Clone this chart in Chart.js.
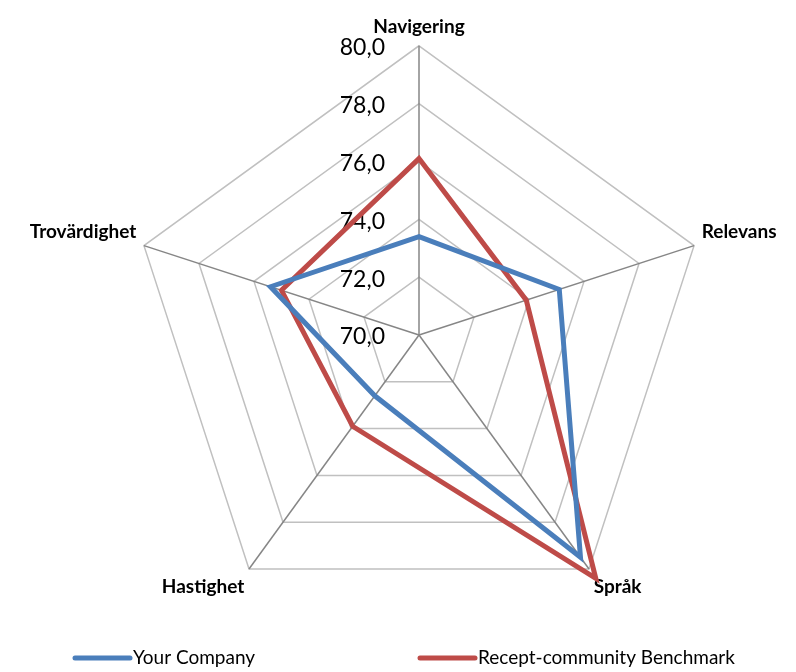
<!DOCTYPE html>
<html>
<head>
<meta charset="utf-8">
<script src="https://cdn.jsdelivr.net/npm/chart.js@4"></script>
<style>
  html, body { margin: 0; padding: 0; background: #fff; }
  #wrap { width: 796px; height: 672px; position: relative; }
</style>
</head>
<body>
<div id="wrap"><canvas id="radarChart"></canvas></div>
<script>
var categories = ['Navigering', 'Relevans', 'Språk', 'Hastighet', 'Trovärdighet'];
var yourCompany = [73.4, 75.1, 79.5, 72.6, 75.4];
var benchmark = [76.1, 73.9, 80.4, 73.9, 75.0];
var seriesNames = ['Your Company', 'Recept-community Benchmark'];
var tickValues = [70, 72, 74, 76, 78, 80];

function fmt(v) { return v.toFixed(1).replace('.', ','); }

// tick labels sit left of the vertical axis, like the original
var tickLabels = {
  id: 'tickLabels',
  beforeDatasetsDraw: function (chart) {
    var s = chart.scales.r, ctx = chart.ctx;
    ctx.save();
    ctx.font = '23px Lato';
    ctx.fillStyle = '#000';
    ctx.textAlign = 'right';
    ctx.textBaseline = 'middle';
    tickValues.forEach(function (v) {
      var d = s.getDistanceFromCenterForValue(v);
      ctx.fillText(fmt(v), s.xCenter - 34, s.yCenter - d + 2);
    });
    ctx.restore();
  }
};

var bottomLegend = {
  id: 'bottomLegend',
  afterDraw: function (chart) {
    var ctx = chart.ctx;
    var xs = [75, 420];
    var y = 658;
    ctx.save();
    ctx.font = '19px Lato';
    ctx.textBaseline = 'middle';
    chart.data.datasets.forEach(function (ds, i) {
      ctx.strokeStyle = ds.borderColor;
      ctx.lineWidth = 5;
      ctx.lineCap = 'round';
      ctx.beginPath();
      ctx.moveTo(xs[i], y);
      ctx.lineTo(xs[i] + 55, y);
      ctx.stroke();
      ctx.fillStyle = '#000';
      ctx.fillText(ds.label, xs[i] + 58, y);
    });
    ctx.restore();
  }
};

var ctx = document.getElementById('radarChart').getContext('2d');
var radarChart = new Chart(ctx, {
  type: 'radar',
  data: {
    labels: categories,
    datasets: [{
      label: seriesNames[0],
      data: yourCompany,
      borderColor: '#4a7ebb',
      backgroundColor: '#4a7ebb',
      borderWidth: 5,
      fill: false,
      pointRadius: 0,
      tension: 0
    }, {
      label: seriesNames[1],
      data: benchmark,
      borderColor: '#be4b48',
      backgroundColor: '#be4b48',
      borderWidth: 5,
      fill: false,
      pointRadius: 0,
      tension: 0
    }]
  },
  options: {
    responsive: true,
    maintainAspectRatio: false,
    animation: false,
    clip: false,
    layout: { padding: { top: -15, bottom: 32, left: 14, right: 0 } },
    plugins: {
      legend: { display: false },
      tooltip: { enabled: false }
    },
    scales: {
      r: {
        min: 70,
        max: 80,
        ticks: { stepSize: 2, display: false },
        grid: { color: '#c0c0c0', lineWidth: 1.5 },
        angleLines: { color: '#868686', lineWidth: 1.5 },
        pointLabels: {
          color: '#000',
          font: { family: 'Lato', size: 19, weight: 'bold' },
          padding: 8
        }
      }
    }
  },
  plugins: [tickLabels, bottomLegend]
});
</script>
</body>
</html>
